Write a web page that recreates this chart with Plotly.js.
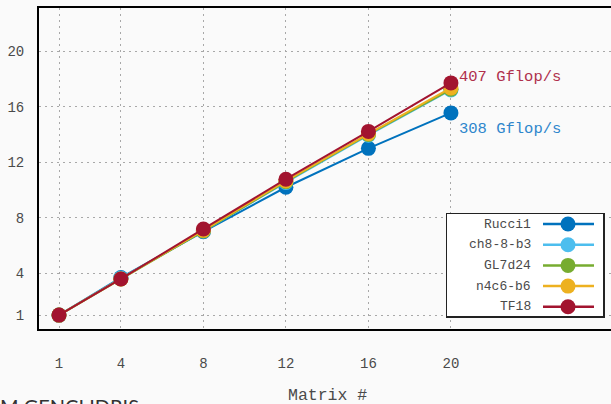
<!DOCTYPE html>
<html>
<head>
<meta charset="utf-8">
<script src="https://cdn.plot.ly/plotly-3.0.1.min.js"></script>
<style>html,body{margin:0;padding:0;background:#fafafa;}#chart{width:611px;height:404px;}</style>
</head>
<body>
<div id="chart"></div>
<script>
// ---- data ----
var matrixIdx = [1, 4, 8, 12, 16, 20];
var seriesNames = ["Rucci1", "ch8-8-b3", "GL7d24", "n4c6-b6", "TF18"];
var rucci1 = [1, 3.7, 7.0, 10.2, 13.0, 15.55];
var ch8_8_b3 = [1, 3.65, 7.05, 10.55, 13.95, 17.2];
var gl7d24 = [1, 3.6, 7.05, 10.6, 14.0, 17.25];
var n4c6_b6 = [1, 3.6, 7.1, 10.65, 14.05, 17.35];
var tf18 = [1, 3.6, 7.2, 10.78, 14.22, 17.71];
var seriesColors = ["#0072BD", "#4DBEEE", "#77AC30", "#EDB120", "#A2142F"];
var xTicks = [1, 4, 8, 12, 16, 20];
var yTicks = [1, 4, 8, 12, 16, 20];
var peakLabels = ["407 Gflop/s", "308 Gflop/s"];

var allSeries = [rucci1, ch8_8_b3, gl7d24, n4c6_b6, tf18];
var mono = "Liberation Mono, Courier New, monospace";
var txtCol = "#4a4a4a";

var traces = [];
allSeries.forEach(function (ys, i) {
  traces.push({
    x: matrixIdx, y: ys, type: "scatter", mode: "lines+markers",
    name: seriesNames[i], showlegend: false, cliponaxis: false,
    line: {color: seriesColors[i], width: 2},
    marker: {color: seriesColors[i], size: 15, line: {width: 0}}
  });
});

// custom legend (text left of symbol), drawn in its own small axes
var LW = 156, LH = 102;
traces.push({
  x: [0, LW, LW, 0], y: [0, 0, LH, LH], xaxis: "x2", yaxis: "y2",
  type: "scatter", mode: "lines", fill: "toself", fillcolor: "#ffffff",
  line: {width: 0}, hoverinfo: "skip", showlegend: false
});
var rowY = [10, 30.7, 51.4, 72.1, 92.8];
var legAnn = [];
seriesNames.forEach(function (nm, i) {
  traces.push({
    x: [96, 121, 147], y: [rowY[i], rowY[i], rowY[i]], xaxis: "x2", yaxis: "y2",
    type: "scatter", mode: "lines", line: {color: seriesColors[i], width: 2.5},
    hoverinfo: "skip", showlegend: false
  });
  traces.push({
    x: [121], y: [rowY[i]], xaxis: "x2", yaxis: "y2",
    type: "scatter", mode: "markers", marker: {color: seriesColors[i], size: 15, line: {width: 0}},
    hoverinfo: "skip", showlegend: false, cliponaxis: false
  });
  legAnn.push({
    xref: "x2", yref: "y2", x: 86, y: rowY[i], text: nm, showarrow: false,
    xanchor: "right", yanchor: "middle", font: {family: mono, size: 13, color: txtCol}
  });
});

var layout = {
  width: 611, height: 404,
  margin: {l: 39, r: 0, t: 8, b: 75},
  paper_bgcolor: "#fafafa", plot_bgcolor: "#fafafa",
  showlegend: false,
  font: {family: mono, size: 14, color: txtCol},
  xaxis: {
    range: [0.03, 27.76], tickvals: xTicks, ticktext: xTicks.map(String),
    showgrid: true, gridcolor: "#a8a8a8", gridwidth: 1, griddash: "2px,4px",
    zeroline: false, showline: true, mirror: true, linecolor: "#000", linewidth: 2,
    ticks: "", ticklabelstandoff: 20, tickfont: {family: mono, size: 14, color: txtCol}
  },
  yaxis: {
    range: [0, 23.1], tickvals: yTicks, ticktext: yTicks.map(String),
    showgrid: true, gridcolor: "#a8a8a8", gridwidth: 1, griddash: "2px,4px",
    zeroline: false, showline: true, mirror: false, linecolor: "#000", linewidth: 2,
    ticks: "", ticklabelstandoff: 10, tickfont: {family: mono, size: 14, color: txtCol}
  },
  xaxis2: {
    domain: [(447 - 39) / 572, (603 - 39) / 572], anchor: "y2", range: [0, LW],
    showgrid: false, zeroline: false, showticklabels: false, ticks: "",
    showline: true, mirror: true, linecolor: "#222", linewidth: 1.5, fixedrange: true
  },
  yaxis2: {
    domain: [(329 - 316) / 321, (329 - 214) / 321], anchor: "x2", range: [LH, 0],
    showgrid: false, zeroline: false, showticklabels: false, ticks: "",
    showline: true, mirror: true, linecolor: "#222", linewidth: 1.5, fixedrange: true
  },
  annotations: legAnn.concat([
    {xref: "paper", yref: "paper", x: (327 - 39) / 572, y: (329 - 395) / 321,
     text: "Matrix #", showarrow: false, xanchor: "center", yanchor: "middle",
     font: {family: mono, size: 16.5, color: txtCol}},
    {xref: "x", yref: "y", x: matrixIdx[5], y: tf18[5], xshift: 6, yshift: 6,
     text: peakLabels[0], showarrow: false, xanchor: "left", yanchor: "middle",
     font: {family: mono, size: 15.5, color: "#B0304C"}},
    {xref: "x", yref: "y", x: matrixIdx[5], y: rucci1[5], xshift: 6, yshift: -16,
     text: peakLabels[1], showarrow: false, xanchor: "left", yanchor: "middle",
     font: {family: mono, size: 15.5, color: "#2E86CC"}},
    {xref: "paper", yref: "paper", x: (141 - 39) / 572, y: (329 - 392) / 321,
     text: "M GENCI IDRIS", showarrow: false, xanchor: "right", yanchor: "top",
     font: {family: "Lato, Open Sans, sans-serif", size: 20, color: "#333"}}
  ])
};

Plotly.newPlot("chart", traces, layout, {displayModeBar: false, staticPlot: true});
</script>
</body>
</html>
